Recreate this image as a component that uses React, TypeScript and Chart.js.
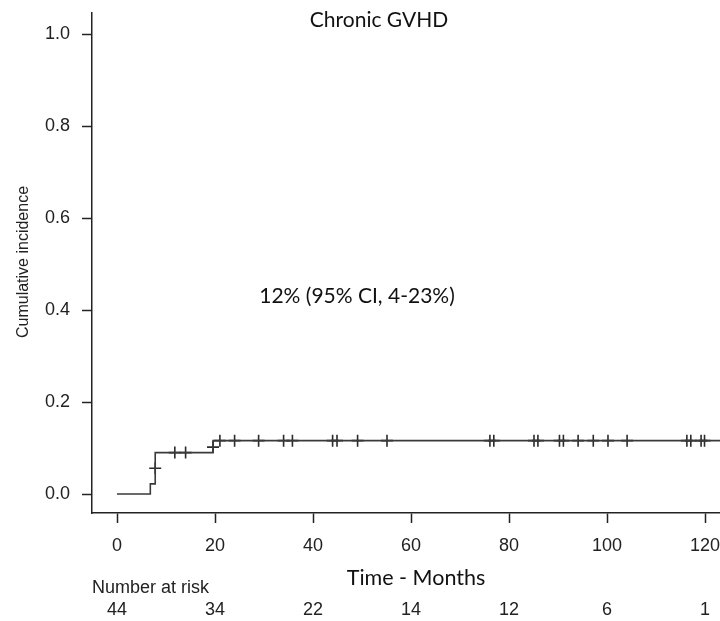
import { useEffect, useRef } from 'react';
import { Chart, registerables } from 'chart.js';

Chart.register(...registerables);

// Tick values
const xTicks = [0, 20, 40, 60, 80, 100, 120];
const yTicks = [0, 0.2, 0.4, 0.6, 0.8, 1.0];

// Cumulative incidence step curve (time in months, value)
const stepTimes = [0, 6.8, 7.8, 19.6, 123.1];
const stepValues = [0, 0.022, 0.09, 0.116, 0.116];

// Censoring marks
const censorTimes = [7.8, 11.8, 14.0, 19.6, 21.0, 24.0, 28.9, 34.0, 35.8, 44.0, 44.9, 49.1, 55.1, 76.1, 76.9, 85.1, 85.9, 90.3, 91.1, 94.1, 97.2, 100.2, 104.1, 116.3, 117.1, 119.2, 119.9];
const censorValues = [0.056, 0.09, 0.09, 0.102, 0.116, 0.116, 0.116, 0.116, 0.116, 0.116, 0.116, 0.116, 0.116, 0.116, 0.116, 0.116, 0.116, 0.116, 0.116, 0.116, 0.116, 0.116, 0.116, 0.116, 0.116, 0.116, 0.116];

// Number at risk table
const atRiskTimes = [0, 20, 40, 60, 80, 100, 120];
const atRiskCounts = [44, 34, 22, 14, 12, 6, 1];

const titleText = 'Chronic GVHD';
const annotationText = '12% (95% CI, 4-23%)';
const xTitleText = 'Time - Months';
const yTitleText = 'Cumulative incidence';
const atRiskLabel = 'Number at risk';

const textPlugin = {
  id: 'textPlugin',
  afterDraw(chart: any) {
    const ctx = chart.ctx;
    const xs = chart.scales.x;
    const ys = chart.scales.y;
    ctx.save();
    ctx.textBaseline = 'middle';

    // axis tick labels
    ctx.fillStyle = '#222';
    ctx.font = '18px "Liberation Sans"';
    ctx.textAlign = 'center';
    xTicks.forEach((v) => {
      ctx.fillText(String(v), xs.getPixelForValue(v), 546);
    });
    ctx.textAlign = 'right';
    yTicks.forEach((v) => {
      ctx.fillText(v.toFixed(1), 70, ys.getPixelForValue(v));
    });

    // y axis title
    ctx.save();
    ctx.translate(24, 262);
    ctx.rotate(-Math.PI / 2);
    ctx.textAlign = 'center';
    ctx.font = '16px "Liberation Sans"';
    ctx.fillText(yTitleText, 0, 0);
    ctx.restore();

    // number at risk
    ctx.textAlign = 'left';
    ctx.font = '18px "Liberation Sans"';
    ctx.fillText(atRiskLabel, 92, 588);
    ctx.textAlign = 'center';
    atRiskCounts.forEach((n, i) => {
      ctx.fillText(String(n), xs.getPixelForValue(atRiskTimes[i]), 610);
    });

    // Calibri-like texts
    ctx.fillStyle = '#111';
    ctx.textAlign = 'center';
    ctx.font = '21px Lato';
    ctx.fillText(titleText, 379, 20);
    ctx.fillText(annotationText, 357, 296);
    ctx.font = '21.5px Lato';
    ctx.fillText(xTitleText, 416, 578);
    ctx.restore();
  },
};

export default function App() {
  const ref = useRef<HTMLCanvasElement | null>(null);
  useEffect(() => {
    document.body.style.margin = '0';
    const canvas = ref.current!;
    const chart = new Chart(canvas, {
      type: 'line',
      data: {
        datasets: [
          {
            label: 'curve',
            data: stepTimes.map((t, i) => ({ x: t, y: stepValues[i] })),
            stepped: 'before',
            borderColor: '#3a3a3a',
            borderWidth: 1.6,
            pointRadius: 0,
            fill: false,
          },
          {
            label: 'censor',
            data: censorTimes.map((t, i) => ({ x: t, y: censorValues[i] })),
            showLine: false,
            pointStyle: 'cross',
            pointRadius: 6,
            pointBorderWidth: 1.6,
            pointBorderColor: '#2a2a2a',
            borderColor: '#2a2a2a',
          },
        ],
      },
      options: {
        animation: false,
        responsive: false,
        devicePixelRatio: 1,
        layout: { autoPadding: false, padding: { top: 13, right: 0, left: 0, bottom: 0 } },
        plugins: { legend: { display: false }, tooltip: { enabled: false } },
        scales: {
          x: {
            type: 'linear',
            min: -5.102,
            max: 123.06,
            afterBuildTicks: (s: any) => {
              s.ticks = xTicks.map((v) => ({ value: v }));
            },
            afterFit: (s: any) => {
              s.height = 108;
              s.paddingLeft = 0;
              s.paddingRight = 0;
            },
            border: { display: true, color: '#222', width: 1.5 },
            grid: { drawOnChartArea: false, drawTicks: true, tickLength: 10, color: '#222', tickWidth: 1.5 },
            ticks: { display: false, autoSkip: false },
          },
          y: {
            type: 'linear',
            min: -0.0413,
            max: 1.0457,
            afterBuildTicks: (s: any) => {
              s.ticks = yTicks.map((v) => ({ value: v }));
            },
            afterFit: (s: any) => {
              s.width = 92;
              s.paddingTop = 0;
              s.paddingBottom = 0;
            },
            border: { display: true, color: '#222', width: 1.5 },
            grid: { drawOnChartArea: false, drawTicks: true, tickLength: 10, color: '#222', tickWidth: 1.5 },
            ticks: { display: false, autoSkip: false },
          },
        },
      },
      plugins: [textPlugin],
    });
    return () => chart.destroy();
  }, []);
  return <canvas ref={ref} width={720} height={621} style={{ display: 'block' }} />;
}
